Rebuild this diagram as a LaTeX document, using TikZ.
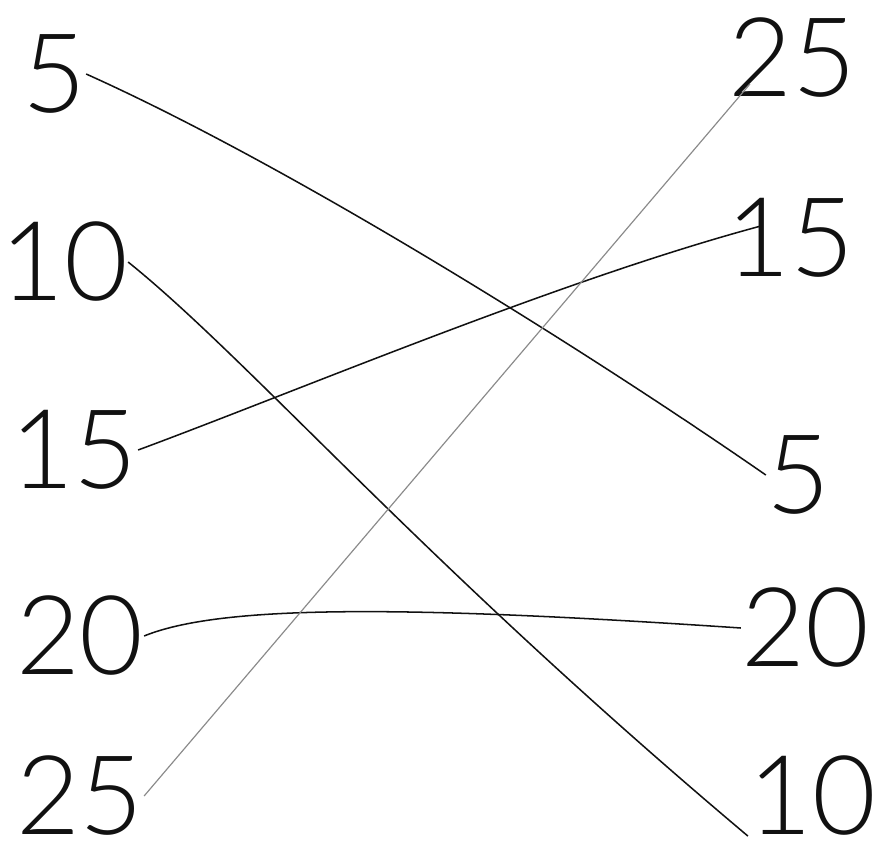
\documentclass[tikz,border=0pt]{standalone}
\usepackage{fontspec}
\usetikzlibrary{calc}
\newfontfamily\handfont{Lato}[UprightFont=* Light]
\definecolor{ink}{HTML}{111111}
\definecolor{faint}{HTML}{8A8A8A}
\tikzset{
  num/.style={inner sep=0pt, font=\handfont\fontsize{94}{98}\selectfont, text=ink},
  link/.style={line width=1.3pt, draw=ink},
  faintlink/.style={line width=1pt, draw=faint}
}
\begin{document}
\begin{tikzpicture}[x=0.03cm,y=-0.03cm]
  \useasboundingbox (0,0) rectangle (884,859);
  % left column
  \node[num] (l5)  at (54,74)  {5};
  \node[num] (l10) at (64,262) {10};
  \node[num] (l15) at (74,450) {15};
  \node[num] (l20) at (80,636) {20};
  \node[num] (l25) at (80,796) {25};
  % right column
  \node[num] (r25) at (792,58)  {25};
  \node[num] (r15) at (790,238) {15};
  \node[num] (r5)  at (798,475) {5};
  \node[num] (r20) at (805,628) {20};
  \node[num] (r10) at (812,796) {10};
  % matching lines
  \draw[link] (l5.east) .. controls (300,170) and (600,360) .. (r5.west);
  \draw[link] (l10.east) .. controls (250,360) and (420,560) .. (r10.south west);
  \draw[link] (l15.east) .. controls (300,390) and (560,280) .. ($(r15.west)+(35,-12)$);
  \draw[link] (l20.east) .. controls (220,605) and (400,605) .. (r20.west);
  \draw[faintlink] (l25.east) -- ($(r25.south west)+(22,-14)$);
\end{tikzpicture}
\end{document}
